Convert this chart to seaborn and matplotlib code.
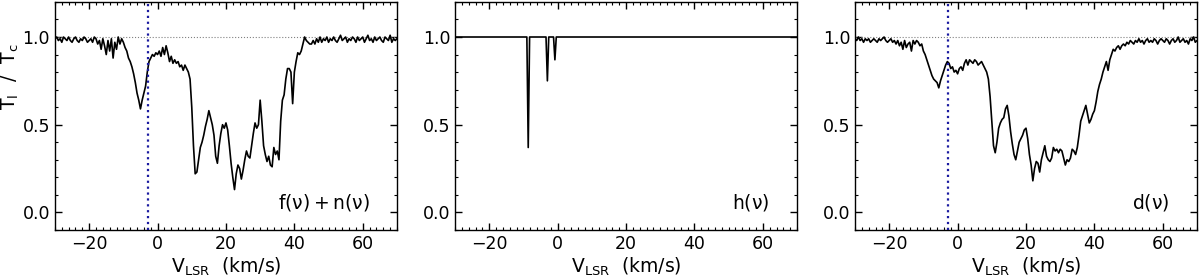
import numpy as np
import pandas as pd
import matplotlib
matplotlib.use("Agg")
import matplotlib.pyplot as plt
from matplotlib.ticker import MultipleLocator
import seaborn as sns

# channel axis: -30 .. 70 km/s, 0.5 km/s channels
velocity = np.linspace(-30, 70, 201)

f_plus_n = [
    0.99, 1.00, 0.98, 0.99, 0.97, 1.00, 0.99, 0.98, 1.00, 0.98, 0.97, 0.99, 1.00, 0.98, 0.97, 0.99, 0.98, 1.00, 0.99, 0.97,
    0.98, 0.99, 0.97, 1.00, 0.99, 0.96, 0.98, 0.93, 0.99, 0.95, 0.90, 0.98, 0.92, 0.99, 0.88, 0.97, 0.93, 1.00, 0.96, 0.99,
    0.97, 0.94, 0.92, 0.88, 0.86, 0.83, 0.79, 0.74, 0.68, 0.64, 0.59, 0.64, 0.68, 0.72, 0.80, 0.86, 0.88, 0.90, 0.89, 0.91,
    0.90, 0.92, 0.89, 0.94, 0.90, 0.95, 0.91, 0.86, 0.89, 0.85, 0.87, 0.85, 0.86, 0.83, 0.84, 0.81, 0.84, 0.82, 0.80, 0.76,
    0.60, 0.38, 0.22, 0.23, 0.30, 0.37, 0.40, 0.44, 0.49, 0.53, 0.58, 0.54, 0.50, 0.44, 0.32, 0.28, 0.38, 0.45, 0.50, 0.48,
    0.51, 0.47, 0.38, 0.28, 0.20, 0.13, 0.22, 0.27, 0.25, 0.19, 0.24, 0.30, 0.35, 0.32, 0.31, 0.38, 0.45, 0.51, 0.48, 0.50,
    0.64, 0.52, 0.38, 0.33, 0.29, 0.32, 0.27, 0.26, 0.37, 0.33, 0.35, 0.30, 0.52, 0.64, 0.67, 0.76, 0.82, 0.82, 0.80, 0.62,
    0.80, 0.86, 0.91, 0.90, 0.92, 0.96, 1.00, 0.98, 0.97, 0.96, 0.96, 0.98, 0.96, 0.99, 0.97, 1.00, 0.97, 0.99, 0.98, 1.00,
    0.97, 0.99, 0.98, 1.00, 0.98, 0.97, 0.99, 1.01, 0.98, 0.99, 1.00, 0.97, 0.99, 0.98, 1.00, 0.99, 0.97, 1.00, 0.98, 0.99,
    1.00, 0.97, 0.99, 1.01, 0.98, 0.99, 0.97, 1.00, 0.98, 0.99, 1.00, 0.98, 0.97, 1.00, 0.99, 0.98, 1.01, 0.97, 0.99, 0.98, 0.99,
]

# recovered profile d(v)
d_profile = [
    0.99, 0.98, 1.00, 0.98, 0.99, 0.97, 0.99, 0.98, 0.99, 0.97, 0.98, 0.99, 0.98, 0.97, 0.99, 0.98, 0.99, 1.00, 0.98, 0.97,
    0.98, 0.99, 0.97, 0.98, 0.96, 0.98, 0.95, 0.97, 0.93, 0.98, 0.94, 0.96, 0.97, 0.92, 0.98, 0.96, 0.98, 0.97, 0.95, 0.96,
    0.92, 0.90, 0.87, 0.84, 0.81, 0.78, 0.76, 0.75, 0.74, 0.71, 0.75, 0.78, 0.81, 0.84, 0.86, 0.85, 0.82, 0.83, 0.80, 0.81,
    0.79, 0.82, 0.83, 0.81, 0.85, 0.87, 0.84, 0.87, 0.86, 0.85, 0.87, 0.86, 0.84, 0.85, 0.86, 0.84, 0.82, 0.80, 0.76, 0.66,
    0.52, 0.38, 0.34, 0.40, 0.48, 0.51, 0.53, 0.54, 0.59, 0.61, 0.55, 0.46, 0.39, 0.33, 0.30, 0.35, 0.40, 0.42, 0.44, 0.47,
    0.48, 0.42, 0.33, 0.27, 0.18, 0.25, 0.29, 0.28, 0.23, 0.30, 0.34, 0.38, 0.32, 0.30, 0.29, 0.31, 0.37, 0.35, 0.36, 0.34,
    0.36, 0.35, 0.31, 0.27, 0.30, 0.29, 0.31, 0.36, 0.35, 0.33, 0.37, 0.44, 0.52, 0.55, 0.58, 0.61, 0.56, 0.51, 0.53, 0.56,
    0.58, 0.63, 0.69, 0.73, 0.76, 0.80, 0.83, 0.86, 0.81, 0.87, 0.90, 0.93, 0.92, 0.94, 0.95, 0.93, 0.95, 0.96, 0.95, 0.97,
    0.96, 0.98, 0.97, 0.96, 0.98, 0.97, 0.99, 0.97, 0.98, 0.96, 0.98, 0.99, 0.97, 0.98, 0.97, 0.99, 0.98, 0.96, 0.98, 0.99,
    0.98, 0.97, 0.99, 0.98, 0.96, 0.98, 0.99, 0.97, 0.98, 1.00, 0.97, 0.98, 0.99, 0.97, 0.98, 0.96, 0.99, 0.98, 1.00, 0.97, 0.98,
]

# h(v): flat with three narrow dips
h_velocity = [-30, -9.0, -8.6, -8.2, -3.4, -3.0, -2.6, -1.2, -0.8, -0.4, 70]
h_profile = [1.0, 1.0, 0.37, 1.0, 1.0, 0.75, 1.0, 1.0, 0.87, 1.0, 1.0]

v_marker = -2.9
panel_labels = [r"$\mathregular{f(\nu) + n(\nu)}$", r"$\mathregular{h(\nu)}$", r"$\mathregular{d(\nu)}$"]

sns.set_style("ticks", rc={'text.color': 'black', 'axes.labelcolor': 'black',
                           'xtick.color': 'black', 'ytick.color': 'black',
                           'axes.edgecolor': 'black'})
plt.rcParams['font.family'] = ['DejaVu Sans']
plt.rcParams['mathtext.fontset'] = 'dejavusans'

fig = plt.figure(figsize=(12, 2.76), dpi=100)
lefts = [0.0458, 0.3792, 0.7125]
axes = [fig.add_axes([l, 0.167, 0.285, 0.826]) for l in lefts]

df1 = pd.DataFrame({'v': velocity, 'T': f_plus_n})
df2 = pd.DataFrame({'v': h_velocity, 'T': h_profile})
df3 = pd.DataFrame({'v': velocity, 'T': d_profile})

for ax, df, lab, i in zip(axes, [df1, df2, df3], panel_labels, range(3)):
    if i != 1:
        ax.axhline(1.0, color='grey', lw=0.8, ls=':', zorder=1)
        ax.axvline(v_marker, color='#1a1aa0', lw=1.6, ls=':', zorder=3)
    sns.lineplot(data=df, x='v', y='T', ax=ax, color='black', lw=1.2, estimator=None, sort=False, zorder=2)
    ax.set_xlim(-30, 70)
    ax.set_ylim(-0.1, 1.2)
    ax.xaxis.set_major_locator(MultipleLocator(20))
    ax.xaxis.set_minor_locator(MultipleLocator(2))
    ax.yaxis.set_major_locator(MultipleLocator(0.5))
    ax.yaxis.set_minor_locator(MultipleLocator(0.1))
    ax.tick_params(which='both', direction='in', top=True, right=True, labelsize=12.5)
    ax.tick_params(which='major', length=5, width=1)
    ax.tick_params(which='minor', length=2.5, width=0.8)
    for s in ax.spines.values():
        s.set_linewidth(1.0)
    ax.set_xlabel(r"$\mathregular{V_{LSR}}$  (km/s)", fontsize=13.5, labelpad=2)
    ax.set_ylabel("")
    ax.text(0.92, 0.12, lab, transform=ax.transAxes, ha='right', va='center', fontsize=13.5)

axes[0].set_ylabel(r"$\mathregular{T_l\ \ /\ \ T_c}$", fontsize=13.5)
axes[0].yaxis.set_label_coords(-0.098, 0.67)

fig.savefig("out.png", dpi=100)
